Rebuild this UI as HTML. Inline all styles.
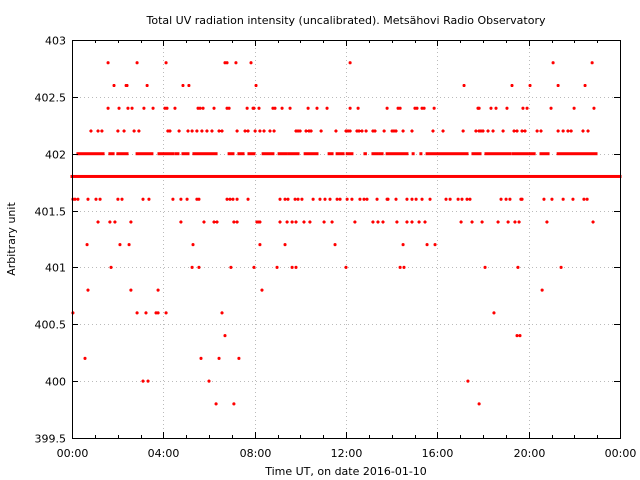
<!DOCTYPE html>
<html><head><meta charset="utf-8"><style>
html,body{margin:0;padding:0;background:#fff;}
svg{display:block;font-family:"DejaVu Sans","Liberation Sans",sans-serif;}
</style></head><body>
<svg id="chart" width="640" height="480" viewBox="0 0 640 480">
<rect x="0" y="0" width="640" height="480" fill="#fff"/>
<text x="346" y="24" font-size="11" text-anchor="middle">Total UV radiation intensity (uncalibrated). Metsähovi Radio Observatory</text>
<text x="346" y="475" font-size="11" text-anchor="middle">Time UT, on date 2016-01-10</text>
<text transform="translate(15,239) rotate(-90)" font-size="11" text-anchor="middle">Arbitrary unit</text>
<g id="grid"></g>
<g id="marks"></g>
<g id="axes"></g>
</svg>
<script>
const yTicks = [403, 402.5, 402, 401.5, 401, 400.5, 400, 399.5];
const yTickLabels = ["403","402.5","402","401.5","401","400.5","400","399.5"];
const xTicks = [0, 4, 8, 12, 16, 20, 24];
const xTickLabels = ["00:00","04:00","08:00","12:00","16:00","20:00","00:00"];
// continuous runs of readings [start hour, end hour]
const runs4018 = [[0, 24]];
const runs4020 = [[0.26,1.36],[1.66,1.80],[2.01,2.41],[2.85,3.50],[3.81,4.42],[4.56,4.64],[4.86,5.08],[5.34,6.31],[6.88,7.05],[7.31,7.49],[7.75,7.97],[8.37,8.80],[9.07,9.37],[9.50,9.90],[10.21,10.73],[11.26,11.39],[11.61,11.87],[12.05,12.26],[12.83,12.85],[13.18,13.36],[13.49,13.58],[13.80,14.67],[14.94,14.94],[15.28,15.28],[15.55,17.30],[17.56,17.87],[18.13,19.18],[19.32,19.93],[20.06,20.24],[20.54,20.85],[21.29,21.81],[21.94,22.95]];
// individual readings (hours) per level
const t4028 = [1.58,2.85,4.12,6.70,6.79,7.18,7.84,12.18,21.07,22.78];
const t4026 = [1.84,2.37,2.41,3.29,4.86,5.12,8.06,17.17,19.27,20.06,21.29,22.47];
const t4024 = [1.58,2.06,2.45,2.63,3.15,3.55,4.07,4.16,4.51,5.52,5.61,5.74,6.22,6.79,6.88,7.67,7.93,7.97,8.19,8.80,8.89,9.20,9.55,10.34,10.73,11.17,12.18,12.53,13.80,14.28,14.37,15.02,15.11,15.33,15.42,15.86,17.78,17.83,18.35,18.57,19.05,19.75,19.93,20.98,21.99,22.86];
const t4022 = [0.83,1.14,1.31,2.01,2.28,2.72,2.93,4.20,4.29,4.69,5.08,5.26,5.47,5.69,5.91,6.13,6.44,6.57,7.23,7.58,7.71,8.02,8.23,8.41,8.67,8.85,9.81,9.90,9.99,10.25,10.38,10.47,10.91,11.56,12.00,12.09,12.18,12.48,12.57,12.70,12.88,13.18,13.27,13.67,14.02,14.10,14.19,14.50,14.89,15.81,16.25,17.13,17.69,17.83,17.91,18.00,18.22,18.44,18.88,19.36,19.49,19.71,19.84,20.37,20.54,21.29,21.51,21.72,21.86,22.38,22.60];
const t4016 = [0.04,0.13,0.26,0.70,1.05,1.23,2.01,2.19,3.11,3.37,4.42,4.77,5.04,5.47,5.56,6.79,6.92,7.05,7.23,7.71,9.11,9.33,9.46,9.77,9.90,10.07,10.56,10.86,11.08,11.30,11.61,11.74,12.05,12.26,12.61,12.79,12.92,13.36,13.80,13.84,14.19,14.67,14.89,15.07,15.33,15.68,16.38,16.56,16.91,17.08,17.30,17.43,18.79,19.01,19.18,19.66,19.71,20.67,21.02,21.51,21.94,22.42,22.56];
const t4014 = [1.14,1.66,1.88,2.58,4.77,5.78,6.22,6.35,7.09,7.23,8.10,8.19,8.23,9.11,9.42,9.64,9.81,10.16,10.42,11.04,11.39,12.39,13.18,13.40,13.62,14.23,14.67,14.89,15.20,15.46,17.04,17.52,17.96,18.66,19.10,19.40,19.58,20.80,22.82];
const t4012 = [0.66,2.10,2.50,5.30,8.23,9.33,11.52,14.50,15.55,15.90];
const t4010 = [1.71,5.26,5.56,6.96,7.97,8.98,9.64,9.81,12.00,14.37,14.54,18.09,19.53,21.42];
const t4008 = [0.70,2.58,3.77,8.32,20.59];
const t4006 = [0.04,2.85,3.24,3.68,3.77,4.12,6.57,18.48];
const t4004 = [6.70,19.49,19.62];
const t4002 = [0.57,5.65,6.44,7.31];
const t4000 = [3.11,3.33,6.00,17.34];
const t3998 = [6.31,7.09,17.83];
const levels = [402.8,402.6,402.4,402.2,401.6,401.4,401.2,401.0,400.8,400.6,400.4,400.2,400.0,399.8];
const pointSets = [t4028,t4026,t4024,t4022,t4016,t4014,t4012,t4010,t4008,t4006,t4004,t4002,t4000,t3998];

const X0=72, X1=620, Y0=40, Y1=438, XMIN=0, XMAX=24, YMIN=399.5, YMAX=403;
function xs(h){return X0+(h-XMIN)/(XMAX-XMIN)*(X1-X0);}
function ys(v){return Y1-(v-YMIN)/(YMAX-YMIN)*(Y1-Y0);}
const NS="http://www.w3.org/2000/svg";
function mk(tag, attrs, parent){const e=document.createElementNS(NS,tag);for(const k in attrs)e.setAttribute(k,attrs[k]);parent.appendChild(e);return e;}
const grid=document.getElementById('grid'), marks=document.getElementById('marks'), axes=document.getElementById('axes');

yTicks.forEach((v,i)=>{
  const y=Math.round(ys(v))+0.5;
  if(i>0&&i<yTicks.length-1){
    const g=mk('line',{x1:X0,x2:X1,y1:y,y2:y,stroke:'#bbb','stroke-width':1,'stroke-dasharray':'1,3'},grid);
    
    
  }
  const t1=mk('line',{x1:X0,x2:X0+6,y1:y,y2:y,stroke:'#000'},axes);
  
  
  const t2=mk('line',{x1:X1-6,x2:X1,y1:y,y2:y,stroke:'#000'},axes);
  
  
  const lb=mk('text',{x:X0-6,y:y+4,'font-size':11,'text-anchor':'end'},axes);
  lb.textContent=yTickLabels[i];
  
  
});
for(let h=XMIN;h<=XMAX;h++){
  const x=Math.round(xs(h))+0.5;
  const major=xTicks.indexOf(h)>=0;
  const len=major?6:3;
  const a=mk('line',{x1:x,x2:x,y1:Y1,y2:Y1-len,stroke:'#000'},axes);
  
  
  const b=mk('line',{x1:x,x2:x,y1:Y0,y2:Y0+len,stroke:'#000'},axes);
  
  
}
xTicks.forEach((h,i)=>{
  const x=Math.round(xs(h))+0.5;
  if(i>0&&i<xTicks.length-1){
    const g=mk('line',{x1:x,x2:x,y1:Y0,y2:Y1,stroke:'#bbb','stroke-width':1,'stroke-dasharray':'1,3'},grid);
    
    
  }
  const lb=mk('text',{x:x,y:Y1+19,'font-size':11,'text-anchor':'middle'},axes);
  lb.textContent=xTickLabels[i];
  
  
});
const frame=mk('rect',{x:X0+0.5,y:Y0+0.5,width:X1-X0,height:Y1-Y0,fill:'none',stroke:'#000'},axes);



function drawRuns(runs, v){
  runs.forEach(r=>{
    const y=ys(v);
    const s=mk('rect',{x:xs(r[0])-1.5,y:y-1.5,width:Math.max(3,xs(r[1])-xs(r[0])+3),height:3,fill:'#f00'},marks);
    
    
  });
}
drawRuns(runs4018,401.8);
drawRuns(runs4020,402.0);
pointSets.forEach((set,i)=>{
  const v=levels[i];
  set.forEach(h=>{
    const x=xs(h), y=ys(v);
    const p=mk('path',{d:`M${x-1.5},${y}H${x+1.5}M${x},${y-1.5}V${y+1.5}`,stroke:'#f00','stroke-width':2},marks);
    
    
  });
});
</script>
</body></html>
